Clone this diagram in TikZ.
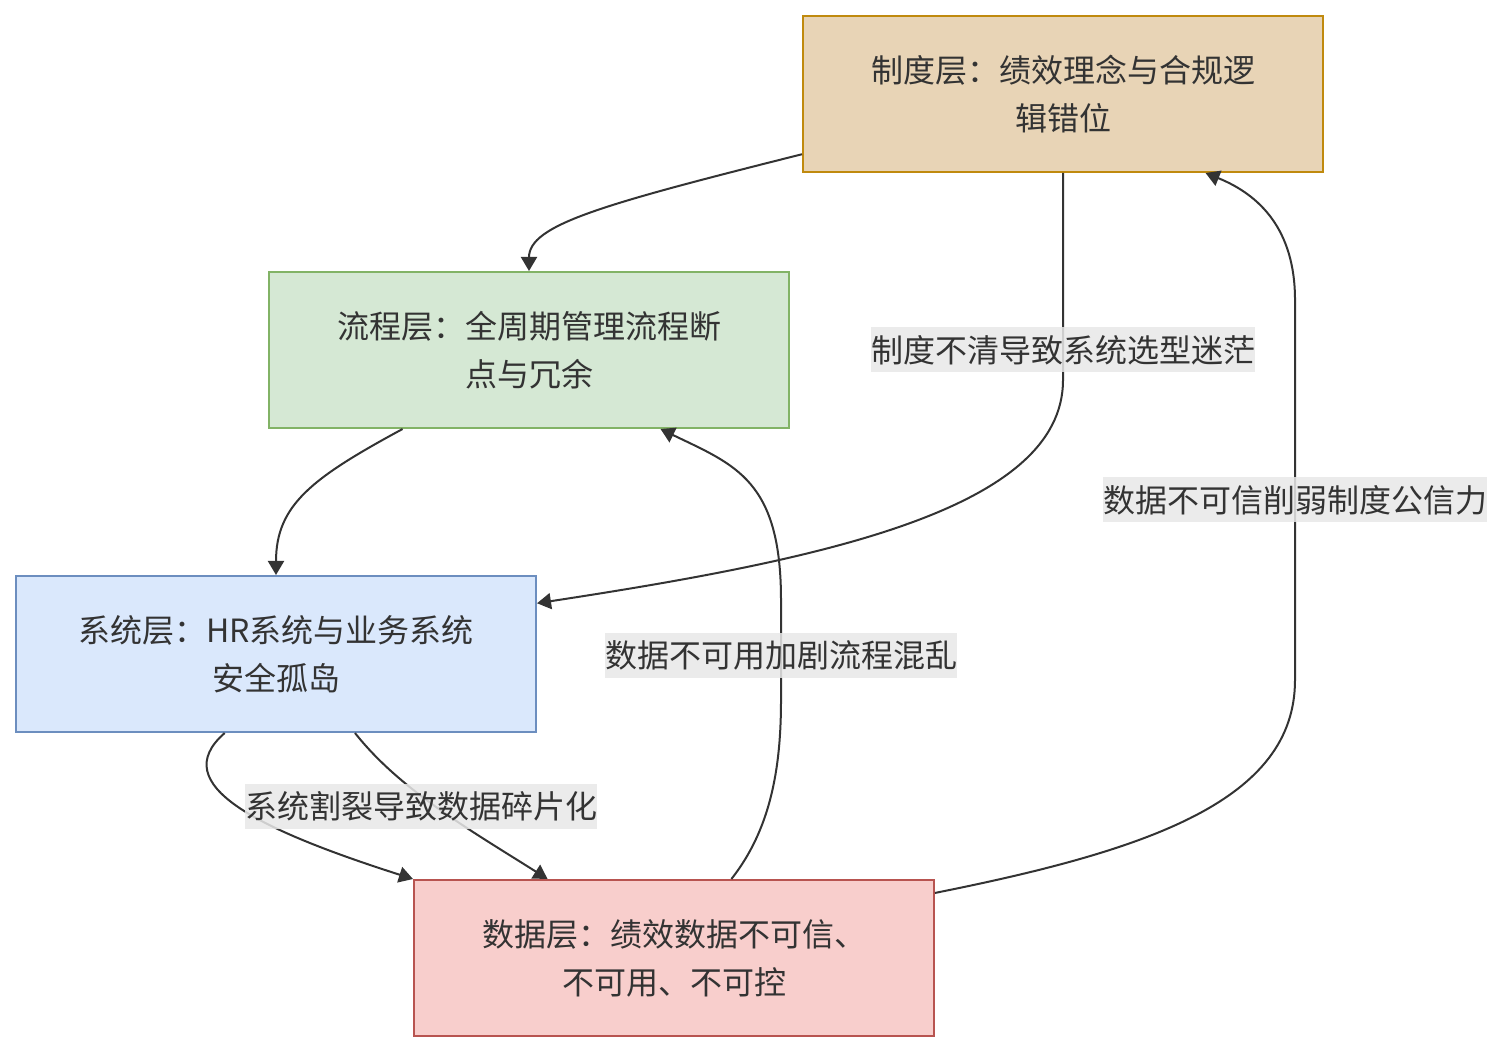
\documentclass[tikz,border=0pt]{standalone}
\usepackage{fontspec}
\setmainfont{Noto Sans CJK SC}
\usepackage{tikz}
\usetikzlibrary{arrows.meta}

\definecolor{inkgray}{HTML}{333333}
\definecolor{tanfill}{HTML}{E8D4B6}
\definecolor{tanline}{HTML}{C08A0E}
\definecolor{greenfill}{HTML}{D5E8D4}
\definecolor{greenline}{HTML}{82B366}
\definecolor{bluefill}{HTML}{DAE8FC}
\definecolor{blueline}{HTML}{6C8EBF}
\definecolor{redfill}{HTML}{F8CECC}
\definecolor{redline}{HTML}{B85450}
\definecolor{labelfill}{HTML}{E8E8E8}

\tikzset{
  layer/.style={draw, line width=1pt, minimum width=260pt, minimum height=78pt,
    align=center, text=inkgray, font=\fontsize{16}{24}\selectfont},
  edgelabel/.style={fill=labelfill, fill opacity=0.85, text opacity=1, text=inkgray,
    inner xsep=0pt, inner ysep=0pt, minimum height=22.5pt, font=\fontsize{16}{20}\selectfont},
  flow/.style={draw=inkgray, line width=1pt, -{Triangle[length=7pt,width=8pt]}}
}

\begin{document}
\begin{tikzpicture}[x=0.5pt,y=-0.5pt]
\path[use as bounding box] (0,0) rectangle (1503,1052);

% layers
\node[layer, fill=tanfill, draw=tanline] (zhidu) at (1063,94)
  {制度层：绩效理念与合规逻\\辑错位};
\node[layer, fill=greenfill, draw=greenline] (liucheng) at (529,350)
  {流程层：全周期管理流程断\\点与冗余};
\node[layer, fill=bluefill, draw=blueline] (xitong) at (276,654)
  {系统层：HR系统与业务系统\\安全孤岛};
\node[layer, fill=redfill, draw=redline] (shuju) at (674,958)
  {数据层：绩效数据不可信、\\不可用、不可控};

% downward links
\draw[flow] (zhidu.193.4) .. controls (600,205) and (529,225) .. (liucheng.north);
\draw[flow] (liucheng.212) .. controls (312,478) and (276,505) .. (xitong.north);
\draw[flow] (zhidu.south) -- (1063,380)
  .. controls (1063,510) and (820,560) .. (xitong.11.3);
\draw[flow] (xitong.237) .. controls (165,785) and (260,830) .. (shuju.north west);
\draw[flow] (xitong.315) .. controls (400,790) and (470,830) .. (shuju.148.8);

% feedback links
\draw[flow] (shuju.54.3) .. controls (770,830) and (781,770) .. (781,700)
  -- (781,600) .. controls (781,480) and (735,465) .. (liucheng.329.2);
\draw[flow] (shuju.14) .. controls (1150,850) and (1295,800) .. (1295,680)
  -- (1295,300) .. controls (1295,230) and (1260,195) .. (zhidu.331.6);

% labels
\node[edgelabel] (lblzx) at (1063,350) {制度不清导致系统选型迷茫};
\node[edgelabel] (lblxs) at (421,806) {系统割裂导致数据碎片化};
\node[edgelabel] (lblsl) at (781,655) {数据不可用加剧流程混乱};
\node[edgelabel] (lblsz) at (1295,500) {数据不可信削弱制度公信力};
\end{tikzpicture}
\end{document}
